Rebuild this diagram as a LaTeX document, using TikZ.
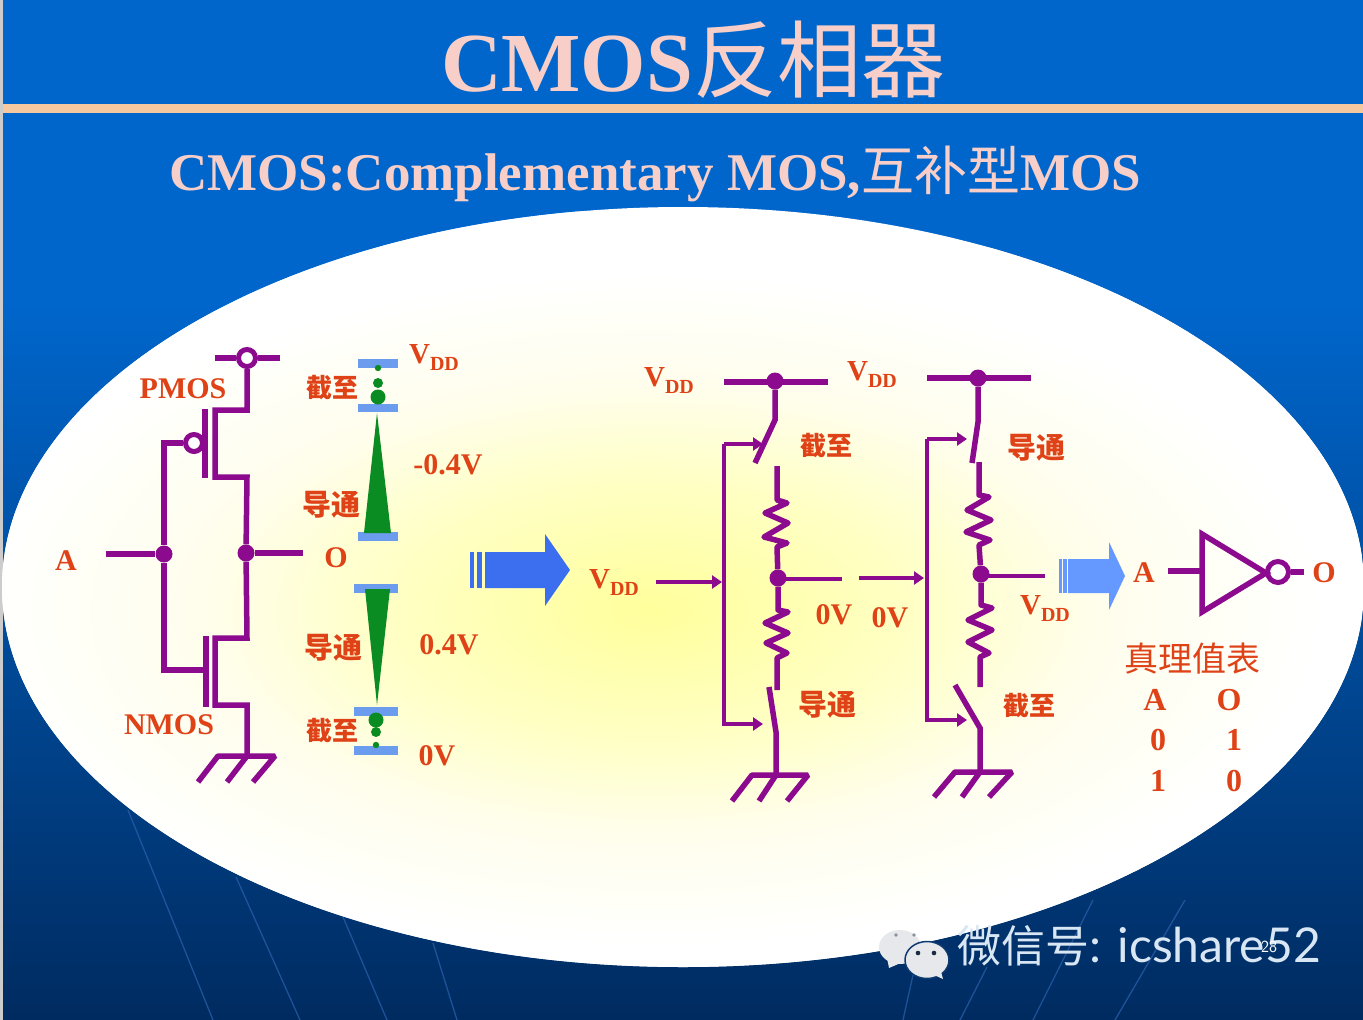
\documentclass[tikz,border=0pt]{standalone}
\usepackage{fontspec}
\setmainfont{Liberation Serif}
\newfontfamily\cjk{Noto Sans CJK SC}
\newfontfamily\wmfont{Lato}
\usetikzlibrary{arrows.meta}
\definecolor{wire}{HTML}{8B0A8E}
\definecolor{lab}{HTML}{DE4216}
\definecolor{peach}{HTML}{F8CFC8}
\definecolor{barblue}{HTML}{6C9CEE}
\definecolor{chan}{HTML}{0A8C22}
\definecolor{bgtop}{HTML}{0066CC}
\definecolor{bgbot}{HTML}{002B60}
\definecolor{streak}{HTML}{2C62AE}
\definecolor{halo0}{HTML}{FFFF9C}
\definecolor{halo1}{HTML}{FFFFC4}
\definecolor{halo2}{HTML}{FFFEEC}
\definecolor{rulec}{HTML}{F6C8A0}
\definecolor{arrowa}{HTML}{3C6EF0}
\definecolor{arrowb}{HTML}{6699FF}
\definecolor{bub}{HTML}{E6E8EC}
\definecolor{bubedge}{HTML}{0D3A70}
\definecolor{eyea}{HTML}{8A929E}
\definecolor{eyeb}{HTML}{1A2A40}
\definecolor{wmtext}{HTML}{D9E6F4}
\pgfdeclareradialshading{haloshade}{\pgfpoint{0bp}{0bp}}{color(0bp)=(halo0); color(8bp)=(halo1); color(14bp)=(halo2); color(21bp)=(white); color(50bp)=(white)}
\newcommand\szb[1]{\fontsize{#1}{#1}\selectfont\bfseries}
\newcommand\vddtext{{\szb{29}V}\raisebox{-7pt}{\szb{20}DD}}
\tikzset{
  wr/.style={draw=wire,line width=5.5pt},
  zigwr/.style={wr,line join=round},
  gndwr/.style={wr,line join=bevel},
  thinwr/.style={draw=wire,line width=3.6pt},
  ctl/.style={draw=wire,line width=3.8pt,-{Triangle[length=10pt,width=13pt]}},
  junction/.style={fill=wire,circle,inner sep=0pt,minimum size=17pt},
  openc/.style={draw=wire,fill=white,circle,line width=5pt,inner sep=0pt,minimum size=#1},
  lbl/.style={text=lab,inner sep=0pt,font=\szb{30}},
  cn/.style={text=lab,inner sep=0pt,font=\cjk\szb{#1}},
  tt/.style={text=lab,inner sep=0pt,font=\szb{32}},
  plate/.style={fill=barblue},
  chfill/.style={fill=chan},
  streakl/.style={draw=streak,line width=1.3pt,opacity=.7},
}
\begin{document}
\begin{tikzpicture}[x=1pt,y=-1pt]
\useasboundingbox (0,0) rectangle (1363,1020);
% background
\fill[bgtop] (0,0) rectangle (1363,300);
\shade[top color=bgtop,bottom color=bgbot] (0,299.5) rectangle (1363,1020);
\fill[black!20!white] (0,0) rectangle (3,1020);
\fill[rulec] (3,104) rectangle (1363,113);
\foreach \a/\b/\c/\d in {128/810/213/1020,236/877/300/1020,343/917/387/1020,433/943/457/1020,903/1020/913/975,960/1020/987/967,1033/1020/1093/900,1115/1020/1185/900}
  \draw[streakl] (\a,\b) -- (\c,\d);
% ellipse panel
\fill[white] (683,587) ellipse (681 and 380);
\begin{scope}
  \clip (683,587) ellipse (681 and 380);
  \shade[shading=haloshade] (650,610) ellipse (800 and 400);
\end{scope}
% title
\node[inner sep=0pt,text=peach] (title) at (693,60) {\szb{84}CMOS{\cjk\mdseries 反相器}};
\node[inner sep=0pt,text=peach] (subtitle) at (655,174) {\szb{53}CMOS:Complementary MOS,{\cjk\mdseries 互补型}MOS};

% ---------- left CMOS circuit
\coordinate (vl) at (215,358); \coordinate (vr) at (280,358);
\node[openc=17pt] (vc) at (247,358) {};
\coordinate (pt) at (247,410); \coordinate (ptl) at (215,410);
\coordinate (pbl) at (215,477); \coordinate (pb) at (247,477);
\node[junction] (outj) at (246,553) {};
\coordinate (nt) at (247,638); \coordinate (ntl) at (215,638);
\coordinate (nbl) at (215,705); \coordinate (nb) at (247,705);
\coordinate (gnd1) at (247,756);
\coordinate (pgt) at (205,409); \coordinate (pgb) at (205,478);
\coordinate (ngt) at (206,636); \coordinate (ngb) at (206,707);
\node[openc=17pt] (pbub) at (194,443) {};
\coordinate (gw) at (164,443); \coordinate (gs) at (164,670); \coordinate (ngs) at (206,670);
\node[junction] (inj) at (164,554) {};
\coordinate (ain) at (106,554); \coordinate (oout) at (303,553);
\draw[wr] (vl) -- (vc.west) (vc.east) -- (vr);
\draw[wr] (vc.south) -- (pt) -- (ptl) -- (pbl) -- (pb) -- (outj) -- (nt) -- (ntl) -- (nbl) -- (nb) -- (gnd1);
\draw[wr] (pgt) -- (pgb);
\draw[wr] (ngt) -- (ngb);
\draw[wr] (pbub.west) -- (gw) -- (inj) -- (gs) -- (ngs);
\draw[wr] (ain) -- (inj);
\draw[wr] (outj) -- (oout);
\coordinate (g1a) at (218,756); \coordinate (g1c) at (275,756);
\coordinate (g1d) at (198,782); \coordinate (g1e) at (227,782); \coordinate (g1f) at (253,782);
\draw[gndwr] (g1d) -- (g1a) -- (g1c) -- (g1f);
\draw[wr] (gnd1) -- (g1e);

\node[lbl] (a1) at (66,561) {A};
\node[lbl] (o1) at (336,558) {O};
\node[lbl] (pmos) at (183,389) {PMOS};
\node[lbl] (nmos) at (169,725) {NMOS};

% ---------- band diagram
\fill[plate] (358,359) rectangle (398,368);
\fill[plate] (358,404) rectangle (398,412);
\fill[plate] (358,532) rectangle (398,541);
\fill[plate] (354,584) rectangle (398,593);
\fill[plate] (354,707) rectangle (398,716);
\fill[plate] (354,746) rectangle (398,755);
\fill[chfill] (377,413) -- (391,533) -- (364,533) -- cycle;
\fill[chfill] (365,589) -- (390,589) -- (377,705) -- cycle;
\fill[chfill] (378,368) circle (3.2);
\fill[chfill] (378,383) circle (5);
\fill[chfill] (378,397) circle (7.5);
\fill[chfill] (376,720) circle (7.5);
\fill[chfill] (376,732) circle (5);
\fill[chfill] (376,745) circle (3.2);
\node[text=lab,inner sep=0pt] (vdd1) at (434,358) {\vddtext};
\node[cn=26] (c1) at (332,388) {截至};
\node[cn=29] (d1) at (331,505) {导通};
\node[lbl] (m04) at (448,465) {-0.4V};
\node[cn=29] (d2) at (333,648) {导通};
\node[lbl] (p04) at (449,645) {0.4V};
\node[cn=26] (c2) at (332,731) {截至};
\node[lbl] (v0a) at (437,756) {0V};

% ---------- big arrow
\fill[arrowa] (470,552) rectangle (474,588);
\fill[arrowa] (477,552) rectangle (482,588);
\fill[arrowa] (485,552) -- (545,552) -- (545,534) -- (570,570) -- (545,606) -- (545,588) -- (485,588) -- cycle;

% ---------- middle circuit (A=0)
\coordinate (mvl) at (724,382); \coordinate (mvr) at (828,382);
\node[junction] (mvd) at (775,381) {};
\coordinate (ms1) at (775,420); \coordinate (ms2) at (755,463);
\coordinate (mr0) at (777,466); \coordinate (mr1) at (777,500);
\node[junction] (mo) at (778,578) {};
\coordinate (mo2) at (842,579);
\coordinate (mr2) at (778,610); \coordinate (mr3) at (777,690);
\coordinate (ms3) at (769,687); \coordinate (ms4) at (776,732); \coordinate (ms5) at (776,775);
\draw[wr] (mvl) -- (mvr);
\draw[wr] (mvd) -- (ms1) -- (ms2);
\draw[zigwr] (mr0) -- (mr1) -- ++(10,3) -- ++(-22,10) -- ++(23,10) -- ++(-24,14) -- ++(23,6) -- ++(-10,4) -- (mo) -- (mr2) -- ++(10,2) -- ++(-23,11) -- ++(23,10) -- ++(-22,10) -- ++(21,10) -- ++(-10,5) -- (mr3);
\draw[wr] (ms3) -- (ms4) -- (ms5);
\draw[thinwr] (mo2 -| mo) -- (mo2);
\coordinate (mg1) at (752,775); \coordinate (mg2) at (808,775);
\coordinate (mg3) at (732,801); \coordinate (mg4) at (759,801); \coordinate (mg5) at (787,801);
\draw[gndwr] (mg3) -- (mg1) -- (mg2) -- (mg5);
\draw[wr] (ms5) -- (mg4);
\coordinate (mb0) at (724,444); \coordinate (mb1) at (724,724);
\coordinate (mt1) at (763,444); \coordinate (mt2) at (763,724);
\draw[ctl] (mb0) -- (mt1);
\draw[ctl] (mb0) -- (mb1) -- (mt2);
\coordinate (min0) at (656,582); \coordinate (min1) at (722,582);
\draw[ctl] (min0) -- (min1);

\node[text=lab,inner sep=0pt] (vdd2) at (669,381) {\vddtext};
\node[text=lab,inner sep=0pt] (vdd3) at (872,375) {\vddtext};
\node[text=lab,inner sep=0pt] (vdd4) at (614,583) {\vddtext};
\node[cn=26] (c3) at (826,446) {截至};
\node[cn=29] (d3) at (827,705) {导通};
\node[lbl] (v0b) at (834,615) {0V};
\node[lbl] (v0c) at (890,618) {0V};

% ---------- right circuit (A=1)
\coordinate (rvl) at (927,378); \coordinate (rvr) at (1031,378);
\node[junction] (rvd) at (978,378) {};
\coordinate (rs1) at (978,422); \coordinate (rs2) at (972,463);
\coordinate (rr0) at (979,462); \coordinate (rr1) at (979,495);
\node[junction] (ro) at (981,574) {};
\coordinate (ro2) at (1045,576);
\coordinate (rr2) at (981,605); \coordinate (rr3) at (980,687);
\coordinate (rs3) at (955,685); \coordinate (rs4) at (980,728); \coordinate (rs5) at (980,772);
\draw[wr] (rvl) -- (rvr);
\draw[wr] (rvd) -- (rs1) -- (rs2);
\draw[zigwr] (rr0) -- (rr1) -- ++(10,2) -- ++(-22,13) -- ++(24,10) -- ++(-25,12) -- ++(24,8) -- ++(-11,5) -- (ro) -- (rr2) -- ++(11,3) -- ++(-24,12) -- ++(24,10) -- ++(-24,12) -- ++(21,11) -- ++(-9,4) -- (rr3);
\draw[wr] (rs3) -- (rs4) -- (rs5);
\draw[thinwr] (ro2 -| ro) -- (ro2);
\coordinate (rg1) at (955,772); \coordinate (rg2) at (1012,772);
\coordinate (rg3) at (934,797); \coordinate (rg4) at (962,797); \coordinate (rg5) at (989,797);
\draw[gndwr] (rg3) -- (rg1) -- (rg2) -- (rg5);
\draw[wr] (rs5) -- (rg4);
\coordinate (rb0) at (927,439); \coordinate (rb1) at (927,720);
\coordinate (rt1) at (967,439); \coordinate (rt2) at (967,720);
\draw[ctl] (rb0) -- (rt1);
\draw[ctl] (rb0) -- (rb1) -- (rt2);
\coordinate (rin0) at (859,578); \coordinate (rin1) at (924,578);
\draw[ctl] (rin0) -- (rin1);
\node[cn=29] (d4) at (1036,448) {导通};
\node[cn=26] (c4) at (1029,706) {截至};
\node[text=lab,inner sep=0pt] (vdd5) at (1045,609) {\vddtext};

% ---------- second arrow
\fill[arrowb] (1059,559) rectangle (1062,593);
\fill[arrowb] (1063,559) rectangle (1067,593);
\fill[arrowb] (1068,559) -- (1109,559) -- (1109,542) -- (1125,576) -- (1109,610) -- (1109,593) -- (1068,593) -- cycle;

% ---------- inverter
\coordinate (ii) at (1168,571); \coordinate (ig) at (1202,571);
\coordinate (it) at (1202,534); \coordinate (ib) at (1202,612); \coordinate (itip) at (1266,573);
\node[openc=21pt] (ibub) at (1278,572) {};
\coordinate (iout) at (1304,572);
\draw[wr,line join=miter] (it) -- (itip) -- (ib) -- cycle;
\draw[wr] (ii) -- (ig);
\draw[wr] (ibub.east) -- (iout);
\node[lbl] (a2) at (1144,573) {A};
\node[lbl] (o2) at (1324,573) {O};

% ---------- truth table
\node[text=lab,inner sep=0pt] (tth) at (1192,659) {\cjk\fontsize{34}{34}\selectfont 真理值表};
\node[tt] (ta) at (1155,700) {A};
\node[tt] (to) at (1229,700) {O};
\node[tt] (t01) at (1158,740) {0};
\node[tt] (t11) at (1234,740) {1};
\node[tt] (t02) at (1158,781) {1};
\node[tt] (t12) at (1234,781) {0};

% ---------- watermark
\fill[bub] (900,947) ellipse (21 and 17);
\fill[bub] (886,953) -- (889,968) -- (903,962) -- cycle;
\fill[eyea] (896,935) circle (1.8);
\fill[eyea] (914,935) circle (1.8);
\draw[bubedge,fill=bub,line width=1.5pt] (927,960) ellipse (22 and 18.5);
\fill[bub] (932,974) -- (943,979) -- (940,968) -- cycle;
\fill[eyeb] (918,953) circle (2.3);
\fill[eyeb] (934,953) circle (2.3);
\node[anchor=west,inner sep=0pt,text=wmtext] (wm) at (957,946) {\fontsize{44}{44}\selectfont{\cjk 微信号}\fontsize{48}{48}\selectfont\wmfont: icshare52};
\node[inner sep=0pt,text=white] (pg) at (1269,947) {\fontsize{17}{17}\selectfont\sffamily 28};
\end{tikzpicture}
\end{document}
